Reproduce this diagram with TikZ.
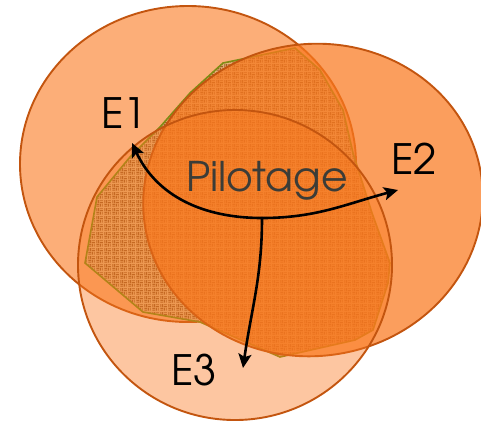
\documentclass[tikz,border=0pt]{standalone}
\usepackage{fontspec}
\newfontfamily\gothic{TeX Gyre Adventor}
\usetikzlibrary{arrows.meta,patterns}
\definecolor{ring}{RGB}{195,85,15}
\definecolor{peach}{RGB}{250,120,30}
\definecolor{burlap}{RGB}{228,178,120}
\definecolor{weave}{RGB}{160,95,40}
\definecolor{rim}{RGB}{128,140,20}
\definecolor{ink}{RGB}{60,60,55}
\pgfdeclarepatternformonly{burlapweave}{\pgfpointorigin}{\pgfpoint{8bp}{8bp}}{\pgfpoint{8bp}{8bp}}
{
  \pgfsetlinewidth{1.1bp}
  \pgfpathmoveto{\pgfpoint{0.4bp}{1bp}}\pgfpathlineto{\pgfpoint{3.6bp}{1bp}}
  \pgfpathmoveto{\pgfpoint{0.4bp}{3bp}}\pgfpathlineto{\pgfpoint{3.6bp}{3bp}}
  \pgfpathmoveto{\pgfpoint{5bp}{0.4bp}}\pgfpathlineto{\pgfpoint{5bp}{3.6bp}}
  \pgfpathmoveto{\pgfpoint{7bp}{0.4bp}}\pgfpathlineto{\pgfpoint{7bp}{3.6bp}}
  \pgfpathmoveto{\pgfpoint{1bp}{4.4bp}}\pgfpathlineto{\pgfpoint{1bp}{7.6bp}}
  \pgfpathmoveto{\pgfpoint{3bp}{4.4bp}}\pgfpathlineto{\pgfpoint{3bp}{7.6bp}}
  \pgfpathmoveto{\pgfpoint{4.4bp}{5bp}}\pgfpathlineto{\pgfpoint{7.6bp}{5bp}}
  \pgfpathmoveto{\pgfpoint{4.4bp}{7bp}}\pgfpathlineto{\pgfpoint{7.6bp}{7bp}}
  \pgfusepath{stroke}
}

\begin{document}
\begin{tikzpicture}
        [
          x=1bp, y=-1bp,
          team/.style={draw=ring, line width=1.9bp, fill=peach},
          zone/.style={draw=rim, line width=1.6bp, pattern=burlapweave, pattern color=weave, preaction={fill=burlap}},
          tag/.style={font=\gothic\fontsize{42}{42}\selectfont, anchor=base, inner sep=0pt},
          link/.style={line width=2.6bp, -{Stealth[length=14bp,width=13bp,inset=3bp]}}
        ]
        \useasboundingbox (0,0) rectangle (481,422);

        \path[team, fill opacity=0.6] (188,164) ellipse [x radius=168, y radius=158];
        \path[zone] (295,48) -- (320,70) -- (343,110) -- (353,153) -- (372,213) -- (390,263)
          -- (388,283) -- (373,330) -- (355,340) -- (280,357) -- (200,322) -- (143,312)
          -- (85,263) -- (97,197) -- (130,157) -- (160,127) -- (190,93) -- (223,63) -- cycle;
        \path[team, fill opacity=0.72, rotate around={8:(313,200)}] (313,200) ellipse [x radius=170, y radius=156];
        \path[team, fill opacity=0.42] (235,265) ellipse [x radius=157, y radius=155];

        \node[tag, text=ink, font=\gothic\fontsize{41}{41}\selectfont] (pilot) at (267,191) {Pilotage};
        \node[tag] (e1) at (124,128) {E1};
        \node[tag] (e2) at (414,174) {E2};
        \node[tag] (e3) at (194,385) {E3};

        \coordinate (hub) at (262,218);
        \coordinate (e1tip) at (132,143);
        \coordinate (e2tip) at (398,190);
        \coordinate (e3tip) at (243,368);

        \draw[link] (hub) to[out=180, in=-65] (e1tip);
        \draw[link] (hub) to[out=0, in=195] (e2tip);
        \draw[link] (hub) to[out=-90, in=82] (e3tip);
    \end{tikzpicture}
\end{document}
